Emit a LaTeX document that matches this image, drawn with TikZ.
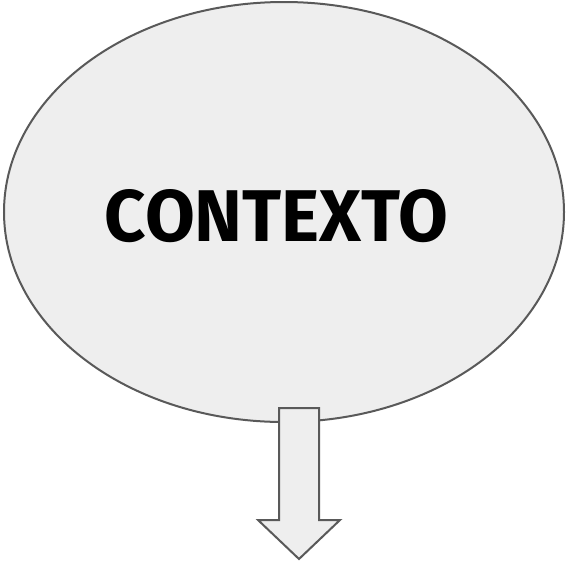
\documentclass[tikz,border=0pt]{standalone}
\usepackage{fontspec}
\setmainfont{Fira Sans}
\usepackage{graphicx}
\definecolor{shapefill}{HTML}{EEEEEE}
\definecolor{shapeline}{HTML}{595959}
\tikzset{
  blob/.style={draw=shapeline, fill=shapefill, line width=2pt},
  blockarrow/.style={draw=shapeline, fill=shapefill, line width=2pt, line join=miter},
}
\begin{document}
\begin{tikzpicture}[x=1pt,y=-1pt]
\useasboundingbox (0,0) rectangle (567,563);
\draw[blob] (284,212) ellipse [x radius=280, y radius=210];
\node[inner sep=0pt] (title) at (276.5,216) {\resizebox{343pt}{52pt}{\bfseries CONTEXTO}};
\coordinate (ctr) at (284,212);
\draw[blockarrow] (279,408) -- (319,408) -- (319,520) -- (340,520) -- (299,559) -- (258,520) -- (279,520) -- cycle;
\end{tikzpicture}
\end{document}
